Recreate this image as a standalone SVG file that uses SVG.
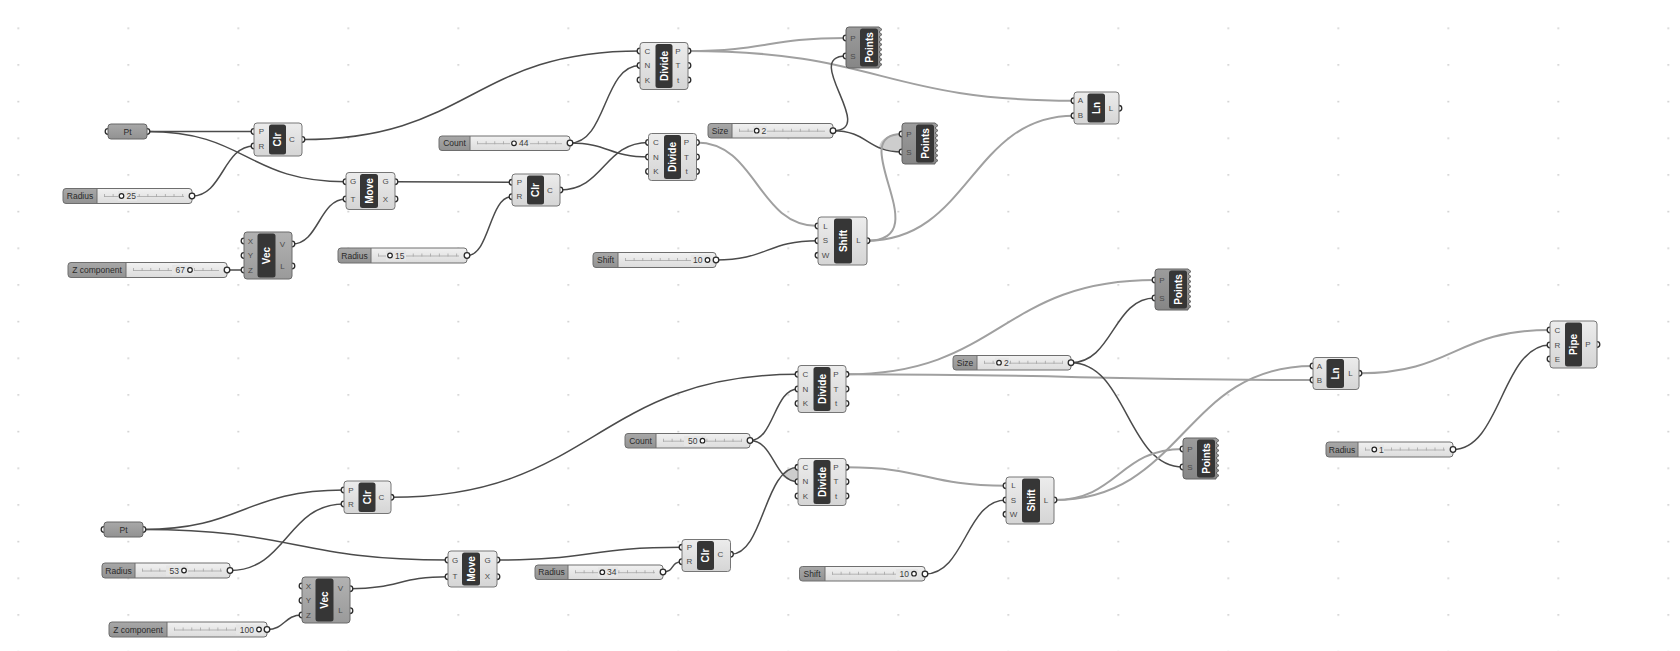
<svg xmlns="http://www.w3.org/2000/svg" width="1680" height="651" viewBox="0 0 1680 651">
<defs>
<style>
.cb{fill:url(#gBody);stroke:#767676;stroke-width:1}
.vb{fill:url(#gVec);stroke:#6a6a6a;stroke-width:1}
.pb{fill:url(#gPts);stroke:#636363;stroke-width:1}
.core{fill:#363636}
.nm{font-family:"Liberation Sans",Arial,sans-serif;font-weight:bold;font-size:10px;fill:#fff;text-anchor:middle;dominant-baseline:central}
.pl{font-family:"Liberation Sans",Arial,sans-serif;font-size:8px;fill:#4a4a4a;text-anchor:middle;dominant-baseline:central}
.port{fill:#fff;stroke:#2b2b2b;stroke-width:1.3}
.sbg{fill:url(#gSv)}
.slab{fill:url(#gSl)}
.sbd{fill:none;stroke:#6e6e6e;stroke-width:1}
.clr{fill:#e6e6e6}
.trk{stroke:#a6a6a6;stroke-width:0.8}
.tck{stroke:#a6a6a6;stroke-width:3;stroke-dasharray:0.8 7.9}
.knob{fill:#fff;stroke:#222;stroke-width:1.2}
.st{font-family:"Liberation Sans",Arial,sans-serif;font-size:8.5px;fill:#2a2a2a;text-anchor:middle;dominant-baseline:central}
.vt{font-family:"Liberation Sans",Arial,sans-serif;font-size:8.5px;fill:#3a3a3a;dominant-baseline:central}
.prm{fill:url(#gSl);stroke:#666;stroke-width:1}
.w{fill:none;stroke:#4b4b4b;stroke-width:1.5}
.wl{fill:none;stroke:#a0a0a0;stroke-width:2}
.lens{fill:#cdcdcd;stroke:none}
</style>
<linearGradient id="gBody" x1="0" y1="0" x2="0" y2="1"><stop offset="0" stop-color="#ececec"/><stop offset="1" stop-color="#d5d5d5"/></linearGradient>
<linearGradient id="gVec" x1="0" y1="0" x2="0" y2="1"><stop offset="0" stop-color="#b2b2b2"/><stop offset="1" stop-color="#9a9a9a"/></linearGradient>
<linearGradient id="gPts" x1="0" y1="0" x2="0" y2="1"><stop offset="0" stop-color="#9c9c9c"/><stop offset="1" stop-color="#868686"/></linearGradient>
<linearGradient id="gSv" x1="0" y1="0" x2="0" y2="1"><stop offset="0" stop-color="#f1f1f1"/><stop offset="1" stop-color="#dcdcdc"/></linearGradient>
<linearGradient id="gSl" x1="0" y1="0" x2="0" y2="1"><stop offset="0" stop-color="#a8a8a8"/><stop offset="1" stop-color="#929292"/></linearGradient>
<pattern id="dots" x="17.5" y="27.5" width="110" height="36.667" patternUnits="userSpaceOnUse"><rect x="0" y="0" width="1.5" height="1.5" fill="#c2c2c2"/></pattern>
<path id="ptsShape" d="M3,0 H33 L36,2.5 L33,5 L36,7.5 L33,10 L36,12.5 L33,15 L36,17.5 L33,20 L36,22.5 L33,25 L36,27.5 L33,30 L36,32.5 L33,35 L36,37.5 L33,40 V41 H3 Q0,41 0,38 V3 Q0,0 3,0 Z"/>
</defs>
<rect width="1680" height="651" fill="#ffffff"/>
<rect width="1680" height="651" fill="url(#dots)"/>

<g id="connectors">
<path class="w" d="M147,131.5 L254,131.5"/>
<path class="w" d="M147,131.5 C247,131.5 246,181.7 346,181.7"/>
<path class="w" d="M192,196 C223,196 223,146 254,146"/>
<path class="w" d="M302,139.5 C471,139.5 471,51 640,51"/>
<path class="w" d="M227,270 L244,270"/>
<path class="w" d="M292,244 C319,244 319,199 346,199"/>
<path class="w" d="M395,181.7 C453,181.7 454,182.3 512,182.3"/>
<path class="w" d="M467,255.5 C490,255.5 489,196.7 512,196.7"/>
<path class="w" d="M570,143 C607,143 603,65.5 640,65.5"/>
<path class="w" d="M570,143 C609,143 609,157 648.5,157"/>
<path class="w" d="M560,190 C604,190 604,142.5 648.5,142.5"/>
<path class="wl" d="M688,51 C767,51 767,38 846,38"/>
<path class="wl" d="M688,51 C881,51 881,100.7 1074,100.7"/>
<path class="w" d="M833,130.7 C878,130.7 801,56 846,56"/>
<path class="lens" d="M902,134 C890,134 880,138 879,148 C888,150 895,152 902,152 Z"/>
<path class="w" d="M833,130.7 C868,130.7 867,152 902,152"/>
<path class="wl" d="M696.5,142.5 C757,142.5 757,226 818,226"/>
<path class="w" d="M716,260 C767,260 767,240.7 818,240.7"/>
<path class="wl" d="M867,240.7 C940,240.7 842,134 902,134"/>
<path class="wl" d="M867,240.7 C970,240.7 971,115.7 1074,115.7"/>

<path class="w" d="M143,529.5 C243,529.5 244,490 344,490"/>
<path class="w" d="M143,529.5 C295,529.5 296,560 448,560"/>
<path class="w" d="M230,570.5 C287,570.5 287,504 344,504"/>
<path class="w" d="M267,629.5 C285,629.5 284,615 302,615"/>
<path class="w" d="M350,588.7 C399,588.7 399,576.7 448,576.7"/>
<path class="w" d="M391,497.3 C594,497.3 595,374.3 798,374.3"/>
<path class="w" d="M497,560 C589,560 590,547.3 682,547.3"/>
<path class="w" d="M663,572 C675,572 670,561.7 682,561.7"/>
<path class="w" d="M750,440.5 C774,440.5 774,389 798,389"/>
<path class="lens" d="M798,467.3 C789,467.3 783,471 782,476 C787,480 792,481.7 798,481.7 Z"/>
<path class="w" d="M750,440.5 C774,440.5 774,481.7 798,481.7"/>
<path class="w" d="M730.5,554.3 C764,554.3 764,467.3 798,467.3"/>
<path class="wl" d="M846,374.3 C1001,374.3 1000,280 1155,280"/>
<path class="wl" d="M846,374.3 C1079,374.3 1080,380 1313,380"/>
<path class="w" d="M1071,362.7 C1113,362.7 1113,298 1155,298"/>
<path class="w" d="M1071,362.7 C1127,362.7 1127,467 1183,467"/>
<path class="wl" d="M846,467.3 C926,467.3 926,485.7 1006,485.7"/>
<path class="w" d="M925,574 C965,574 966,500 1006,500"/>
<path class="wl" d="M1054,500 C1118,500 1119,449 1183,449"/>
<path class="wl" d="M1054,500 C1184,500 1183,366 1313,366"/>
<path class="wl" d="M1359,373.3 C1454,373.3 1455,330 1550,330"/>
<path class="w" d="M1453,449.5 C1501,449.5 1502,345 1550,345"/>
</g>

<!-- ================= TOP ================= -->
<g id="pt-top">
<circle class="port" cx="108" cy="131.5" r="2.8"/><circle class="port" cx="147" cy="131.5" r="2.8"/>
<rect class="prm" x="108" y="124" width="39" height="15" rx="3"/>
<text class="st" x="127.5" y="131.5">Pt</text>
</g>

<g id="clr-top">
<circle class="port" cx="254" cy="131.5" r="2.8"/><circle class="port" cx="254" cy="146" r="2.8"/><circle class="port" cx="302" cy="139.5" r="2.8"/>
<rect class="cb" x="254" y="123" width="48" height="33" rx="3"/>
<rect class="core" x="269" y="124.5" width="17" height="30" rx="2.5"/>
<text class="nm" transform="translate(277.5 139.5) rotate(-90)">Clr</text>
<text class="pl" x="261.5" y="131.5">P</text><text class="pl" x="261.5" y="146">R</text><text class="pl" x="292" y="139.5">C</text>
</g>

<g id="slider-radius-25">
<rect class="sbg" x="63" y="188.5" width="129" height="15" rx="3"/>
<path class="slab" d="M97,188.5 H66 Q63,188.5 63,191.5 V200.5 Q63,203.5 66,203.5 H97 Z"/>
<rect class="sbd" x="63" y="188.5" width="129" height="15" rx="3"/>
<line class="sbd" x1="97" y1="188.5" x2="97" y2="203.5"/>
<line class="trk" x1="104" y1="196.5" x2="184" y2="196.5"/>
<line class="tck" x1="104" y1="195.5" x2="184" y2="195.5"/>
<rect class="clr" x="118" y="191" width="19" height="10"/>
<circle class="knob" cx="121.5" cy="196" r="2.3"/>
<text class="st" x="80" y="196">Radius</text>
<text class="vt" x="126.5" y="196">25</text>
<circle class="port" cx="192" cy="196" r="2.8"/>
</g>

<g id="move-top">
<circle class="port" cx="346" cy="181.7" r="2.8"/><circle class="port" cx="346" cy="199" r="2.8"/>
<circle class="port" cx="395" cy="181.7" r="2.8"/><circle class="port" cx="395" cy="199" r="2.8"/>
<rect class="cb" x="346" y="172.5" width="49" height="37" rx="3"/>
<rect class="core" x="360" y="174" width="18" height="34" rx="2.5"/>
<text class="nm" transform="translate(369 191) rotate(-90)">Move</text>
<text class="pl" x="353" y="181.7">G</text><text class="pl" x="353" y="199">T</text>
<text class="pl" x="385.5" y="181.7">G</text><text class="pl" x="385.5" y="199">X</text>
</g>

<g id="vec-top">
<circle class="port" cx="244" cy="241" r="2.8"/><circle class="port" cx="244" cy="255.5" r="2.8"/><circle class="port" cx="244" cy="270" r="2.8"/>
<circle class="port" cx="292" cy="244" r="2.8"/><circle class="port" cx="292" cy="266" r="2.8"/>
<rect class="vb" x="244" y="232" width="48" height="47" rx="3"/>
<rect class="core" x="257.5" y="233.5" width="18" height="44" rx="2.5"/>
<text class="nm" transform="translate(266.5 255.5) rotate(-90)">Vec</text>
<text class="pl" x="250.5" y="241">X</text><text class="pl" x="250.5" y="255.5">Y</text><text class="pl" x="250.5" y="270">Z</text>
<text class="pl" x="282.5" y="244">V</text><text class="pl" x="282.5" y="266">L</text>
</g>

<g id="slider-z-67">
<rect class="sbg" x="68" y="262.5" width="159" height="15" rx="3"/>
<path class="slab" d="M126,262.5 H71 Q68,262.5 68,265.5 V274.5 Q68,277.5 71,277.5 H126 Z"/>
<rect class="sbd" x="68" y="262.5" width="159" height="15" rx="3"/>
<line class="sbd" x1="126" y1="262.5" x2="126" y2="277.5"/>
<line class="trk" x1="133" y1="270.5" x2="219" y2="270.5"/>
<line class="tck" x1="133" y1="269.5" x2="219" y2="269.5"/>
<rect class="clr" x="172" y="265" width="22" height="10"/>
<circle class="knob" cx="190" cy="270" r="2.3"/>
<text class="st" x="97" y="270">Z component</text>
<text class="vt" x="185" y="270" text-anchor="end">67</text>
<circle class="port" cx="227" cy="270" r="2.8"/>
</g>

<g id="slider-radius-15">
<rect class="sbg" x="338" y="248" width="129" height="15" rx="3"/>
<path class="slab" d="M371,248 H341 Q338,248 338,251 V260 Q338,263 341,263 H371 Z"/>
<rect class="sbd" x="338" y="248" width="129" height="15" rx="3"/>
<line class="sbd" x1="371" y1="248" x2="371" y2="263"/>
<line class="trk" x1="378" y1="256" x2="459" y2="256"/>
<line class="tck" x1="378" y1="255" x2="459" y2="255"/>
<rect class="clr" x="386" y="250.5" width="20" height="10"/>
<circle class="knob" cx="390" cy="255.5" r="2.3"/>
<text class="st" x="354.5" y="255.5">Radius</text>
<text class="vt" x="395" y="255.5">15</text>
<circle class="port" cx="467" cy="255.5" r="2.8"/>
</g>

<g id="clr2-top">
<circle class="port" cx="512" cy="182.3" r="2.8"/><circle class="port" cx="512" cy="196.7" r="2.8"/><circle class="port" cx="560" cy="190" r="2.8"/>
<rect class="cb" x="512" y="174" width="48" height="32" rx="3"/>
<rect class="core" x="527" y="175.5" width="17" height="29" rx="2.5"/>
<text class="nm" transform="translate(535.5 190) rotate(-90)">Clr</text>
<text class="pl" x="519.5" y="182.3">P</text><text class="pl" x="519.5" y="196.7">R</text><text class="pl" x="550" y="190">C</text>
</g>

<g id="slider-count-44">
<rect class="sbg" x="439" y="136" width="131" height="14.5" rx="3"/>
<path class="slab" d="M470,136 H442 Q439,136 439,139 V147.5 Q439,150.5 442,150.5 H470 Z"/>
<rect class="sbd" x="439" y="136" width="131" height="14.5" rx="3"/>
<line class="sbd" x1="470" y1="136" x2="470" y2="150.5"/>
<line class="trk" x1="477" y1="143.7" x2="562" y2="143.7"/>
<line class="tck" x1="477" y1="142.7" x2="562" y2="142.7"/>
<rect class="clr" x="510" y="138.5" width="20" height="10"/>
<circle class="knob" cx="514" cy="143.3" r="2.3"/>
<text class="st" x="454.5" y="143.3">Count</text>
<text class="vt" x="519" y="143.3">44</text>
<circle class="port" cx="570" cy="143" r="2.8"/>
</g>

<g id="divide1-top">
<circle class="port" cx="640" cy="51" r="2.8"/><circle class="port" cx="640" cy="65.5" r="2.8"/><circle class="port" cx="640" cy="80" r="2.8"/>
<circle class="port" cx="688" cy="51" r="2.8"/><circle class="port" cx="688" cy="65.5" r="2.8"/><circle class="port" cx="688" cy="80" r="2.8"/>
<rect class="cb" x="640" y="42.5" width="48" height="47" rx="3"/>
<rect class="core" x="655.5" y="44" width="17" height="44" rx="2.5"/>
<text class="nm" transform="translate(664 66) rotate(-90)">Divide</text>
<text class="pl" x="647.5" y="51">C</text><text class="pl" x="647.5" y="65.5">N</text><text class="pl" x="647.5" y="80">K</text>
<text class="pl" x="678" y="51">P</text><text class="pl" x="678" y="65.5">T</text><text class="pl" x="678" y="80">t</text>
</g>

<g id="divide2-top">
<circle class="port" cx="648.5" cy="142.5" r="2.8"/><circle class="port" cx="648.5" cy="157" r="2.8"/><circle class="port" cx="648.5" cy="171.5" r="2.8"/>
<circle class="port" cx="696.5" cy="142.5" r="2.8"/><circle class="port" cx="696.5" cy="157" r="2.8"/><circle class="port" cx="696.5" cy="171.5" r="2.8"/>
<rect class="cb" x="648.5" y="133.5" width="48" height="47" rx="3"/>
<rect class="core" x="664" y="135" width="17" height="44" rx="2.5"/>
<text class="nm" transform="translate(672.5 157) rotate(-90)">Divide</text>
<text class="pl" x="656" y="142.5">C</text><text class="pl" x="656" y="157">N</text><text class="pl" x="656" y="171.5">K</text>
<text class="pl" x="686.5" y="142.5">P</text><text class="pl" x="686.5" y="157">T</text><text class="pl" x="686.5" y="171.5">t</text>
</g>

<g id="slider-size-top">
<rect class="sbg" x="708" y="123.5" width="125" height="14.5" rx="3"/>
<path class="slab" d="M732,123.5 H711 Q708,123.5 708,126.5 V135 Q708,138 711,138 H732 Z"/>
<rect class="sbd" x="708" y="123.5" width="125" height="14.5" rx="3"/>
<line class="sbd" x1="732" y1="123.5" x2="732" y2="138"/>
<line class="trk" x1="739" y1="131.2" x2="825" y2="131.2"/>
<line class="tck" x1="739" y1="130.2" x2="825" y2="130.2"/>
<rect class="clr" x="753" y="126" width="14" height="10"/>
<circle class="knob" cx="756.7" cy="130.7" r="2.3"/>
<text class="st" x="720" y="130.7">Size</text>
<text class="vt" x="761.5" y="130.7">2</text>
<circle class="port" cx="833" cy="130.7" r="2.8"/>
</g>

<g id="points1-top">
<circle class="port" cx="846" cy="38" r="2.8"/><circle class="port" cx="846" cy="56" r="2.8"/>
<use href="#ptsShape" class="pb" x="846" y="27"/>
<rect class="core" x="860" y="28.5" width="18" height="38" rx="2.5"/>
<text class="nm" transform="translate(869 47.5) rotate(-90)">Points</text>
<text class="pl" x="853" y="38">P</text><text class="pl" x="853" y="56">S</text>
</g>

<g id="points2-top">
<circle class="port" cx="902" cy="134" r="2.8"/><circle class="port" cx="902" cy="152" r="2.8"/>
<use href="#ptsShape" class="pb" x="902" y="123"/>
<rect class="core" x="916" y="124.5" width="18" height="38" rx="2.5"/>
<text class="nm" transform="translate(925 143.5) rotate(-90)">Points</text>
<text class="pl" x="909" y="134">P</text><text class="pl" x="909" y="152">S</text>
</g>

<g id="shift-top">
<circle class="port" cx="818" cy="226" r="2.8"/><circle class="port" cx="818" cy="240.7" r="2.8"/><circle class="port" cx="818" cy="255.3" r="2.8"/>
<circle class="port" cx="867" cy="240.7" r="2.8"/>
<rect class="cb" x="818" y="217" width="49" height="48" rx="3"/>
<rect class="core" x="834" y="218.5" width="18" height="45" rx="2.5"/>
<text class="nm" transform="translate(843 241) rotate(-90)">Shift</text>
<text class="pl" x="825.5" y="226">L</text><text class="pl" x="825.5" y="240.7">S</text><text class="pl" x="825.5" y="255.3">W</text>
<text class="pl" x="858.5" y="240.7">L</text>
</g>

<g id="slider-shift-top">
<rect class="sbg" x="593" y="252.5" width="123" height="15" rx="3"/>
<path class="slab" d="M618,252.5 H596 Q593,252.5 593,255.5 V264.5 Q593,267.5 596,267.5 H618 Z"/>
<rect class="sbd" x="593" y="252.5" width="123" height="15" rx="3"/>
<line class="sbd" x1="618" y1="252.5" x2="618" y2="267.5"/>
<line class="trk" x1="625" y1="260.5" x2="709" y2="260.5"/>
<line class="tck" x1="625" y1="259.5" x2="709" y2="259.5"/>
<rect class="clr" x="691" y="255" width="20" height="10"/>
<circle class="knob" cx="707.5" cy="260" r="2.3"/>
<text class="st" x="605.5" y="260">Shift</text>
<text class="vt" x="702.5" y="260" text-anchor="end">10</text>
<circle class="port" cx="716" cy="260" r="2.8"/>
</g>

<g id="ln-top">
<circle class="port" cx="1074" cy="100.7" r="2.8"/><circle class="port" cx="1074" cy="115.7" r="2.8"/><circle class="port" cx="1119" cy="108.3" r="2.8"/>
<rect class="cb" x="1074" y="92" width="45" height="32" rx="3"/>
<rect class="core" x="1087.5" y="93.5" width="17.5" height="29" rx="2.5"/>
<text class="nm" transform="translate(1096.25 108) rotate(-90)">Ln</text>
<text class="pl" x="1080.5" y="100.7">A</text><text class="pl" x="1080.5" y="115.7">B</text><text class="pl" x="1111" y="108.3">L</text>
</g>

<!-- ================= BOTTOM ================= -->
<g id="pt-bottom">
<circle class="port" cx="104" cy="529.5" r="2.8"/><circle class="port" cx="143" cy="529.5" r="2.8"/>
<rect class="prm" x="104" y="522" width="39" height="15" rx="3"/>
<text class="st" x="123.5" y="529.5">Pt</text>
</g>

<g id="clr-bottom">
<circle class="port" cx="344" cy="490" r="2.8"/><circle class="port" cx="344" cy="504" r="2.8"/><circle class="port" cx="391" cy="497.3" r="2.8"/>
<rect class="cb" x="344" y="481" width="47" height="32.5" rx="3"/>
<rect class="core" x="358.5" y="482.5" width="17" height="29.5" rx="2.5"/>
<text class="nm" transform="translate(367 497.25) rotate(-90)">Clr</text>
<text class="pl" x="351" y="490">P</text><text class="pl" x="351" y="504">R</text><text class="pl" x="381.5" y="497.3">C</text>
</g>

<g id="slider-radius-53">
<rect class="sbg" x="102" y="563" width="128" height="15" rx="3"/>
<path class="slab" d="M135,563 H105 Q102,563 102,566 V575 Q102,578 105,578 H135 Z"/>
<rect class="sbd" x="102" y="563" width="128" height="15" rx="3"/>
<line class="sbd" x1="135" y1="563" x2="135" y2="578"/>
<line class="trk" x1="142" y1="571" x2="222" y2="571"/>
<line class="tck" x1="142" y1="570" x2="222" y2="570"/>
<rect class="clr" x="166" y="565.5" width="22" height="10"/>
<circle class="knob" cx="184" cy="570.5" r="2.3"/>
<text class="st" x="118.5" y="570.5">Radius</text>
<text class="vt" x="179" y="570.5" text-anchor="end">53</text>
<circle class="port" cx="230" cy="570.5" r="2.8"/>
</g>

<g id="move-bottom">
<circle class="port" cx="448" cy="560" r="2.8"/><circle class="port" cx="448" cy="576.7" r="2.8"/>
<circle class="port" cx="497" cy="560" r="2.8"/><circle class="port" cx="497" cy="576.7" r="2.8"/>
<rect class="cb" x="448" y="551" width="49" height="36" rx="3"/>
<rect class="core" x="462" y="552.5" width="18" height="33" rx="2.5"/>
<text class="nm" transform="translate(471 569) rotate(-90)">Move</text>
<text class="pl" x="455" y="560">G</text><text class="pl" x="455" y="576.7">T</text>
<text class="pl" x="487.5" y="560">G</text><text class="pl" x="487.5" y="576.7">X</text>
</g>

<g id="vec-bottom">
<circle class="port" cx="302" cy="586" r="2.8"/><circle class="port" cx="302" cy="600.5" r="2.8"/><circle class="port" cx="302" cy="615" r="2.8"/>
<circle class="port" cx="350" cy="588.7" r="2.8"/><circle class="port" cx="350" cy="610.7" r="2.8"/>
<rect class="vb" x="302" y="577" width="48" height="46" rx="3"/>
<rect class="core" x="315.5" y="578.5" width="18" height="43" rx="2.5"/>
<text class="nm" transform="translate(324.5 600) rotate(-90)">Vec</text>
<text class="pl" x="308.5" y="586">X</text><text class="pl" x="308.5" y="600.5">Y</text><text class="pl" x="308.5" y="615">Z</text>
<text class="pl" x="340.5" y="588.7">V</text><text class="pl" x="340.5" y="610.7">L</text>
</g>

<g id="slider-z-100">
<rect class="sbg" x="109" y="622" width="158" height="15" rx="3"/>
<path class="slab" d="M167,622 H112 Q109,622 109,625 V634 Q109,637 112,637 H167 Z"/>
<rect class="sbd" x="109" y="622" width="158" height="15" rx="3"/>
<line class="sbd" x1="167" y1="622" x2="167" y2="637"/>
<line class="trk" x1="174" y1="630" x2="262" y2="630"/>
<line class="tck" x1="174" y1="629" x2="262" y2="629"/>
<rect class="clr" x="236" y="624.5" width="27" height="10"/>
<circle class="knob" cx="259" cy="629.5" r="2.3"/>
<text class="st" x="138" y="629.5">Z component</text>
<text class="vt" x="254" y="629.5" text-anchor="end">100</text>
<circle class="port" cx="267" cy="629.5" r="2.8"/>
</g>

<g id="divide1-bottom">
<circle class="port" cx="798" cy="374.3" r="2.8"/><circle class="port" cx="798" cy="389" r="2.8"/><circle class="port" cx="798" cy="403.5" r="2.8"/>
<circle class="port" cx="846" cy="374.3" r="2.8"/><circle class="port" cx="846" cy="389" r="2.8"/><circle class="port" cx="846" cy="403.5" r="2.8"/>
<rect class="cb" x="798" y="365.5" width="48" height="47" rx="3"/>
<rect class="core" x="813.5" y="367" width="17" height="44" rx="2.5"/>
<text class="nm" transform="translate(822 389) rotate(-90)">Divide</text>
<text class="pl" x="805.5" y="374.3">C</text><text class="pl" x="805.5" y="389">N</text><text class="pl" x="805.5" y="403.5">K</text>
<text class="pl" x="836" y="374.3">P</text><text class="pl" x="836" y="389">T</text><text class="pl" x="836" y="403.5">t</text>
</g>

<g id="slider-count-50">
<rect class="sbg" x="625" y="433.5" width="125" height="14.5" rx="3"/>
<path class="slab" d="M656,433.5 H628 Q625,433.5 625,436.5 V445 Q625,448 628,448 H656 Z"/>
<rect class="sbd" x="625" y="433.5" width="125" height="14.5" rx="3"/>
<line class="sbd" x1="656" y1="433.5" x2="656" y2="448"/>
<line class="trk" x1="663" y1="441.2" x2="742" y2="441.2"/>
<line class="tck" x1="663" y1="440.2" x2="742" y2="440.2"/>
<rect class="clr" x="684" y="436" width="22" height="10"/>
<circle class="knob" cx="702.5" cy="440.7" r="2.3"/>
<text class="st" x="640.5" y="440.7">Count</text>
<text class="vt" x="697.5" y="440.7" text-anchor="end">50</text>
<circle class="port" cx="750" cy="440.5" r="2.8"/>
</g>

<g id="divide2-bottom">
<circle class="port" cx="798" cy="467.3" r="2.8"/><circle class="port" cx="798" cy="481.7" r="2.8"/><circle class="port" cx="798" cy="496" r="2.8"/>
<circle class="port" cx="846" cy="467.3" r="2.8"/><circle class="port" cx="846" cy="481.7" r="2.8"/><circle class="port" cx="846" cy="496" r="2.8"/>
<rect class="cb" x="798" y="458.5" width="48" height="47" rx="3"/>
<rect class="core" x="813.5" y="460" width="17" height="44" rx="2.5"/>
<text class="nm" transform="translate(822 482) rotate(-90)">Divide</text>
<text class="pl" x="805.5" y="467.3">C</text><text class="pl" x="805.5" y="481.7">N</text><text class="pl" x="805.5" y="496">K</text>
<text class="pl" x="836" y="467.3">P</text><text class="pl" x="836" y="481.7">T</text><text class="pl" x="836" y="496">t</text>
</g>

<g id="clr2-bottom">
<circle class="port" cx="682" cy="547.3" r="2.8"/><circle class="port" cx="682" cy="561.7" r="2.8"/><circle class="port" cx="730.5" cy="554.3" r="2.8"/>
<rect class="cb" x="682" y="539.5" width="48.5" height="32" rx="3"/>
<rect class="core" x="697" y="541" width="17" height="29" rx="2.5"/>
<text class="nm" transform="translate(705.5 555.5) rotate(-90)">Clr</text>
<text class="pl" x="689.5" y="547.3">P</text><text class="pl" x="689.5" y="561.7">R</text><text class="pl" x="720.5" y="554.3">C</text>
</g>

<g id="slider-radius-34">
<rect class="sbg" x="535" y="565" width="128" height="14.5" rx="3"/>
<path class="slab" d="M568,565 H538 Q535,565 535,568 V576.5 Q535,579.5 538,579.5 H568 Z"/>
<rect class="sbd" x="535" y="565" width="128" height="14.5" rx="3"/>
<line class="sbd" x1="568" y1="565" x2="568" y2="579.5"/>
<line class="trk" x1="575" y1="572.7" x2="655" y2="572.7"/>
<line class="tck" x1="575" y1="571.7" x2="655" y2="571.7"/>
<rect class="clr" x="598" y="567.3" width="20" height="10"/>
<circle class="knob" cx="602.3" cy="572.2" r="2.3"/>
<text class="st" x="551.5" y="572.2">Radius</text>
<text class="vt" x="607" y="572.2">34</text>
<circle class="port" cx="663" cy="572" r="2.8"/>
</g>

<g id="slider-shift-bottom">
<rect class="sbg" x="799.5" y="566.5" width="125.5" height="14.5" rx="3"/>
<path class="slab" d="M825,566.5 H802.5 Q799.5,566.5 799.5,569.5 V578 Q799.5,581 802.5,581 H825 Z"/>
<rect class="sbd" x="799.5" y="566.5" width="125.5" height="14.5" rx="3"/>
<line class="sbd" x1="825" y1="566.5" x2="825" y2="581"/>
<line class="trk" x1="832" y1="574.2" x2="918" y2="574.2"/>
<line class="tck" x1="832" y1="573.2" x2="918" y2="573.2"/>
<rect class="clr" x="896" y="569" width="22" height="10"/>
<circle class="knob" cx="914" cy="573.7" r="2.3"/>
<text class="st" x="812" y="573.7">Shift</text>
<text class="vt" x="909" y="573.7" text-anchor="end">10</text>
<circle class="port" cx="925" cy="574" r="2.8"/>
</g>

<g id="shift-bottom">
<circle class="port" cx="1006" cy="485.7" r="2.8"/><circle class="port" cx="1006" cy="500" r="2.8"/><circle class="port" cx="1006" cy="514.3" r="2.8"/>
<circle class="port" cx="1054" cy="500" r="2.8"/>
<rect class="cb" x="1006" y="477" width="48" height="47" rx="3"/>
<rect class="core" x="1022" y="478.5" width="18" height="44" rx="2.5"/>
<text class="nm" transform="translate(1031 500.5) rotate(-90)">Shift</text>
<text class="pl" x="1013.5" y="485.7">L</text><text class="pl" x="1013.5" y="500">S</text><text class="pl" x="1013.5" y="514.3">W</text>
<text class="pl" x="1046" y="500">L</text>
</g>

<g id="slider-size-bottom">
<rect class="sbg" x="953" y="355.5" width="118" height="14.5" rx="3"/>
<path class="slab" d="M977,355.5 H956 Q953,355.5 953,358.5 V367 Q953,370 956,370 H977 Z"/>
<rect class="sbd" x="953" y="355.5" width="118" height="14.5" rx="3"/>
<line class="sbd" x1="977" y1="355.5" x2="977" y2="370"/>
<line class="trk" x1="984" y1="363.2" x2="1063" y2="363.2"/>
<line class="tck" x1="984" y1="362.2" x2="1063" y2="362.2"/>
<rect class="clr" x="995" y="357.8" width="14" height="10"/>
<circle class="knob" cx="999" cy="362.7" r="2.3"/>
<text class="st" x="965" y="362.7">Size</text>
<text class="vt" x="1004" y="362.7">2</text>
<circle class="port" cx="1071" cy="362.7" r="2.8"/>
</g>

<g id="points1-bottom">
<circle class="port" cx="1155" cy="280" r="2.8"/><circle class="port" cx="1155" cy="298" r="2.8"/>
<use href="#ptsShape" class="pb" x="1155" y="269"/>
<rect class="core" x="1169" y="270.5" width="18" height="38" rx="2.5"/>
<text class="nm" transform="translate(1178 289.5) rotate(-90)">Points</text>
<text class="pl" x="1162" y="280">P</text><text class="pl" x="1162" y="298">S</text>
</g>

<g id="points2-bottom">
<circle class="port" cx="1183" cy="449" r="2.8"/><circle class="port" cx="1183" cy="467" r="2.8"/>
<use href="#ptsShape" class="pb" x="1183" y="438"/>
<rect class="core" x="1197" y="439.5" width="18" height="38" rx="2.5"/>
<text class="nm" transform="translate(1206 458.5) rotate(-90)">Points</text>
<text class="pl" x="1190" y="449">P</text><text class="pl" x="1190" y="467">S</text>
</g>

<g id="ln-bottom">
<circle class="port" cx="1313" cy="366" r="2.8"/><circle class="port" cx="1313" cy="380" r="2.8"/><circle class="port" cx="1359" cy="373.3" r="2.8"/>
<rect class="cb" x="1313" y="357.5" width="46" height="32" rx="3"/>
<rect class="core" x="1326.5" y="359" width="17.5" height="29" rx="2.5"/>
<text class="nm" transform="translate(1335.25 373.5) rotate(-90)">Ln</text>
<text class="pl" x="1319.5" y="366">A</text><text class="pl" x="1319.5" y="380">B</text><text class="pl" x="1350.5" y="373.3">L</text>
</g>

<g id="pipe">
<circle class="port" cx="1550" cy="330" r="2.8"/><circle class="port" cx="1550" cy="345" r="2.8"/><circle class="port" cx="1550" cy="359" r="2.8"/>
<circle class="port" cx="1597" cy="344.5" r="2.8"/>
<rect class="cb" x="1550" y="321" width="47" height="47" rx="3"/>
<rect class="core" x="1565" y="322.5" width="17" height="44" rx="2.5"/>
<text class="nm" transform="translate(1573.5 344.5) rotate(-90)">Pipe</text>
<text class="pl" x="1557.5" y="330">C</text><text class="pl" x="1557.5" y="345">R</text><text class="pl" x="1557.5" y="359">E</text>
<text class="pl" x="1588" y="344.5">P</text>
</g>

<g id="slider-radius-1">
<rect class="sbg" x="1326" y="442" width="127" height="15" rx="3"/>
<path class="slab" d="M1358,442 H1329 Q1326,442 1326,445 V454 Q1326,457 1329,457 H1358 Z"/>
<rect class="sbd" x="1326" y="442" width="127" height="15" rx="3"/>
<line class="sbd" x1="1358" y1="442" x2="1358" y2="457"/>
<line class="trk" x1="1365" y1="450" x2="1445" y2="450"/>
<line class="tck" x1="1365" y1="449" x2="1445" y2="449"/>
<rect class="clr" x="1370" y="444.5" width="14" height="10"/>
<circle class="knob" cx="1374.3" cy="449.5" r="2.3"/>
<text class="st" x="1342" y="449.5">Radius</text>
<text class="vt" x="1379" y="449.5">1</text>
<circle class="port" cx="1453" cy="449.5" r="2.8"/>
</g>
</svg>
